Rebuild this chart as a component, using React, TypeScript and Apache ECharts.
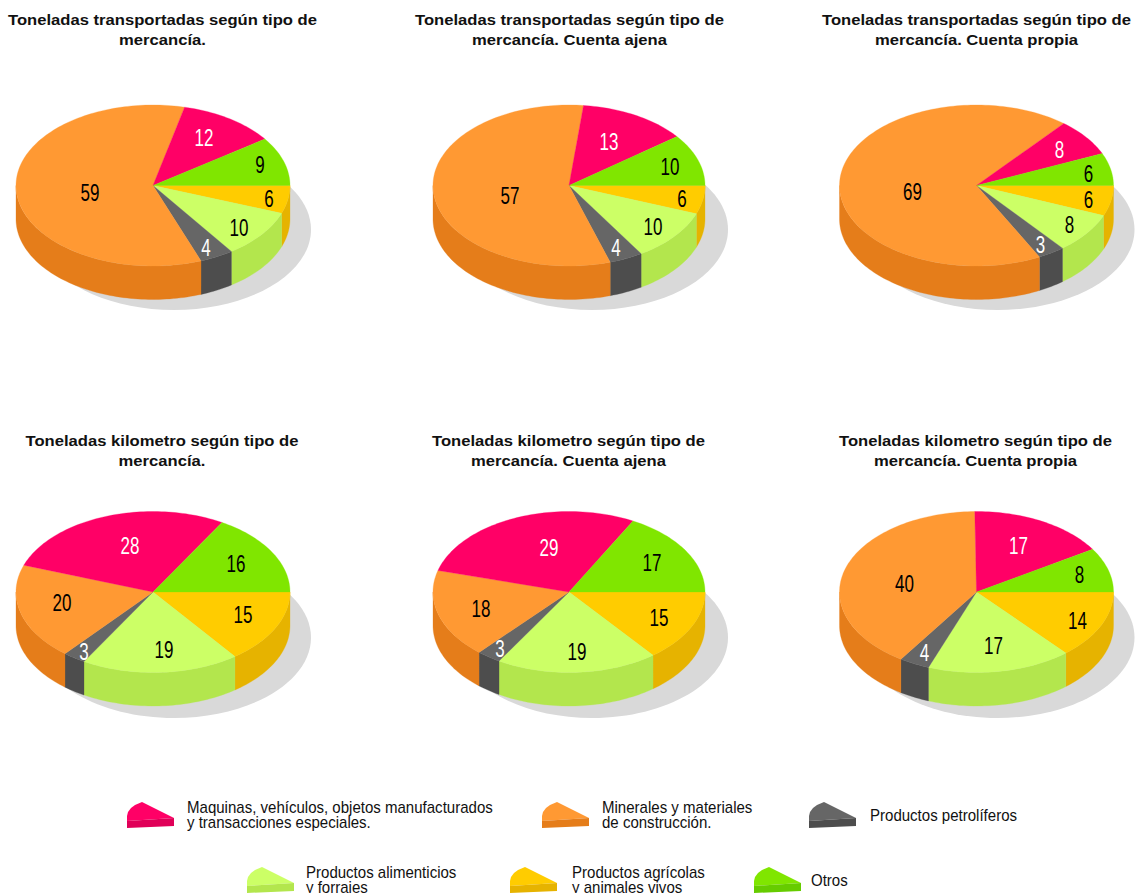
import React, { useEffect, useRef } from "react";
import * as echarts from "echarts";

// Slice order: clockwise from 3 o'clock.
const categories = [
  "Productos agrícolas y animales vivos",
  "Productos alimenticios y forrajes",
  "Productos petrolíferos",
  "Minerales y materiales de construcción.",
  "Maquinas, vehículos, objetos manufacturados y transacciones especiales.",
  "Otros",
];

// Printed figures
const tonsAllLabels = [6, 10, 4, 59, 12, 9];
const tonsHireLabels = [6, 10, 4, 57, 13, 10];
const tonsOwnLabels = [6, 8, 3, 69, 8, 6];
const tkmAllLabels = [15, 19, 3, 20, 28, 16];
const tkmHireLabels = [15, 19, 3, 18, 29, 17];
const tkmOwnLabels = [14, 17, 4, 40, 17, 8];

// Shares
const tonsAllShares = [5.6, 9.7, 4.0, 59.4, 11.5, 9.8];
const tonsHireShares = [5.7, 10.4, 4.0, 56.6, 12.9, 10.4];
const tonsOwnShares = [6.1, 8.1, 3.2, 68.6, 7.5, 6.5];
const tkmAllShares = [14.8, 18.6, 2.7, 19.3, 28.0, 16.6];
const tkmHireShares = [14.4, 19.2, 2.9, 17.8, 28.5, 17.2];
const tkmOwnShares = [13.7, 17.0, 3.6, 40.5, 16.3, 8.9];

const titles = [
  "Toneladas transportadas según tipo de\nmercancía.",
  "Toneladas transportadas según tipo de\nmercancía. Cuenta ajena",
  "Toneladas transportadas según tipo de\nmercancía. Cuenta propia",
  "Toneladas kilometro según tipo de\nmercancía.",
  "Toneladas kilometro según tipo de\nmercancía. Cuenta ajena",
  "Toneladas kilometro según tipo de\nmercancía. Cuenta propia",
];

const legendTexts = [
  "Maquinas, vehículos, objetos manufacturados\ny transacciones especiales.",
  "Minerales y materiales\nde construcción.",
  "Productos petrolíferos",
  "Productos alimenticios\ny forrajes",
  "Productos agrícolas\ny animales vivos",
  "Otros",
];

// ---- styling and layout ----
const TOP = ["#FFCC00", "#CCFF66", "#666666", "#FF9933", "#FF0066", "#80E600"];
const SIDE = ["#E6B300", "#B3E64D", "#4D4D4D", "#E57D1A", "#E00058", "#66CC00"];
const INK = ["#000", "#000", "#fff", "#000", "#fff", "#000"];
const RY = 80.5;
const DEPTH = 33.5;
const PIES = [
  { cx: 153, cy: 185.5, rx: 137, sx: 21, sy: 44, tx: 162.5, ty: 10 },
  { cx: 569, cy: 185.5, rx: 136, sx: 23, sy: 44, tx: 569.5, ty: 10 },
  { cx: 976.5, cy: 185.5, rx: 137, sx: 21, sy: 44, tx: 976.5, ty: 10 },
  { cx: 153, cy: 592, rx: 137, sx: 21, sy: 45.5, tx: 162, ty: 431 },
  { cx: 569, cy: 592, rx: 136, sx: 23, sy: 45.5, tx: 568.5, ty: 431 },
  { cx: 976.5, cy: 592, rx: 137, sx: 21, sy: 45.5, tx: 975.5, ty: 431 },
];
const LABEL_OFFSETS = [
  [[116, 12], [86, 41], [53, 61], [-63, 6], [51, -49], [107, -22]],
  [[113, 12], [84, 40], [47, 61], [-59, 9], [40, -45], [101, -20]],
  [[112, 13], [93, 38], [64, 58], [-64, 5], [83, -37], [112, -13]],
  [[90, 22], [11, 57], [-69, 59], [-91, 10], [-23, -47], [83, -29]],
  [[90, 25], [8, 59], [-69, 56], [-88, 16], [-20, -45], [83, -30]],
  [[101, 28], [17, 53], [-52, 60], [-72, -9], [42, -47], [103, -18]],
];
const LEGEND_LAYOUT = [
  { slice: 4, ix: 127, iy: 802, tx: 187, ty: 799.5 },
  { slice: 3, ix: 542, iy: 802, tx: 602, ty: 799.5 },
  { slice: 2, ix: 809, iy: 802, tx: 870, ty: 808 },
  { slice: 1, ix: 247, iy: 867, tx: 306, ty: 864.5 },
  { slice: 0, ix: 510, iy: 867, tx: 572, ty: 864.5 },
  { slice: 5, ix: 754, iy: 867, tx: 811, ty: 873 },
];
const ICON_TOP = [[0, 19], [0, 14], [1, 10], [4, 6], [8, 3], [15, 0], [47, 16]];
const ICON_SIDE = [[0, 19], [47, 16], [47, 24], [0, 26]];

const rim = (cx: number, cy: number, rx: number, a: number, b: number) => {
  const pts: number[][] = [];
  const n = Math.max(2, Math.ceil(Math.abs(b - a) / 1.5));
  for (let i = 0; i <= n; i++) {
    const t = ((a + ((b - a) * i) / n) * Math.PI) / 180;
    pts.push([cx + rx * Math.cos(t), cy + RY * Math.sin(t)]);
  }
  return pts;
};

const pieSeries = (pieIndex: number, shares: number[], labels: number[]) => {
  const { cx, cy, rx, sx, sy } = PIES[pieIndex];
  const total = shares.reduce((s, v) => s + v, 0);
  return {
    type: "custom",
    coordinateSystem: "none",
    silent: true,
    clip: false,
    data: shares.map((v, i) => ({ name: categories[i], value: [v, labels[i], i] })),
    renderItem: (params: any, api: any) => {
      const i = params.dataIndex;
      const before = shares.slice(0, i).reduce((s, v) => s + v, 0);
      const a = (before / total) * 360;
      const b = ((before + api.value(0)) / total) * 360;
      const children: any[] = [];
      if (i === 0) {
        children.push({
          type: "ellipse",
          z2: 0,
          shape: { cx: cx + sx, cy: cy + sy, rx, ry: RY },
          style: { fill: "#D9D9D9" },
        });
      }
      const s0 = Math.max(a, 0);
      const s1 = Math.min(b, 180);
      if (s1 > s0) {
        const upper = rim(cx, cy, rx, s0, s1);
        const lower = upper.map(([x, y]) => [x, y + DEPTH]).reverse();
        children.push({
          type: "polygon",
          z2: 1,
          shape: { points: upper.concat(lower) },
          style: { fill: SIDE[i], stroke: SIDE[i], lineWidth: 0.3 },
        });
      }
      children.push({
        type: "polygon",
        z2: 2,
        shape: { points: [[cx, cy]].concat(rim(cx, cy, rx, a, b)) },
        style: { fill: TOP[i], stroke: TOP[i], lineWidth: 0.3 },
      });
      const [dx, dy] = LABEL_OFFSETS[pieIndex][i];
      children.push({
        type: "text",
        z2: 10,
        x: cx + dx,
        y: cy + dy + 1.5,
        scaleX: 0.74,
        style: {
          text: String(api.value(1)),
          fill: INK[i],
          fontFamily: "Liberation Sans",
          fontSize: 23,
          align: "center",
          verticalAlign: "middle",
        },
      });
      return { type: "group", children };
    },
  };
};

const titleGraphics = () =>
  titles.map((t, i) => ({
    type: "text",
    x: PIES[i].tx,
    y: PIES[i].ty,
    scaleX: 1.108,
    style: {
      text: t,
      fill: "#111",
      fontFamily: "Liberation Sans",
      fontSize: 15,
      fontWeight: "bold",
      lineHeight: 20,
      align: "center",
      verticalAlign: "top",
    },
  }));

const legendGraphics = () => {
  const out: any[] = [];
  LEGEND_LAYOUT.forEach((l, i) => {
    const shift = (p: number[][]) => p.map(([x, y]) => [x + l.ix, y + l.iy]);
    out.push({ type: "polygon", shape: { points: shift(ICON_TOP) }, style: { fill: TOP[l.slice] } });
    out.push({ type: "polygon", shape: { points: shift(ICON_SIDE) }, style: { fill: SIDE[l.slice] } });
    out.push({
      type: "text",
      x: l.tx,
      y: l.ty,
      scaleX: 0.94,
      style: {
        text: legendTexts[i],
        fill: "#111",
        fontFamily: "Liberation Sans",
        fontSize: 16,
        lineHeight: 15,
        align: "left",
        verticalAlign: "top",
      },
    });
  });
  return out;
};

export default function App() {
  const ref = useRef<HTMLDivElement>(null);
  useEffect(() => {
    document.body.style.margin = "0";
    document.body.style.overflow = "hidden";
    const chart = echarts.init(ref.current!, null, { renderer: "svg" });
    chart.setOption({
      animation: false,
      backgroundColor: "#fff",
      series: [
        pieSeries(0, tonsAllShares, tonsAllLabels),
        pieSeries(1, tonsHireShares, tonsHireLabels),
        pieSeries(2, tonsOwnShares, tonsOwnLabels),
        pieSeries(3, tkmAllShares, tkmAllLabels),
        pieSeries(4, tkmHireShares, tkmHireLabels),
        pieSeries(5, tkmOwnShares, tkmOwnLabels),
      ],
      graphic: { elements: titleGraphics().concat(legendGraphics()) },
    });
    return () => chart.dispose();
  }, []);
  return <div ref={ref} style={{ position: "absolute", left: 0, top: 0, width: 1136, height: 893 }} />;
}
